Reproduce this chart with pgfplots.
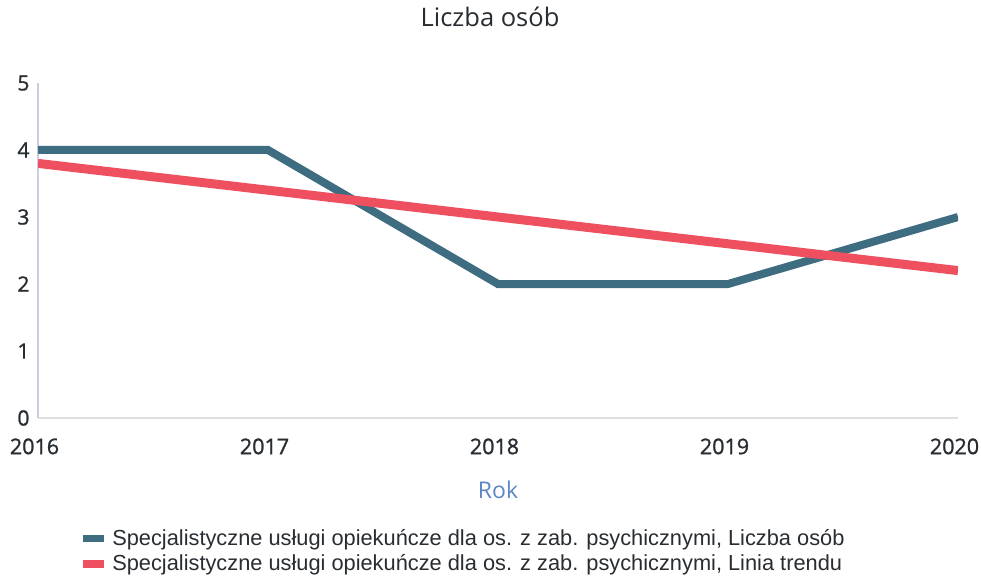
\documentclass[border=0pt]{standalone}
\usepackage{pgfplots}
\pgfplotsset{compat=1.18}
\usepackage{fontspec}
\setmainfont{Open Sans}
\newfontfamily\tickfont[FakeBold=1.2]{Open Sans}
\newfontfamily\legfont{Liberation Sans}
\definecolor{teal1}{RGB}{62,108,128}
\definecolor{red1}{RGB}{238,80,96}
\definecolor{rokc}{RGB}{92,134,196}
\definecolor{txt}{RGB}{40,45,50}
\definecolor{yax}{RGB}{200,205,225}
\begin{document}
\begin{tikzpicture}
\useasboundingbox (-38pt,-160pt) rectangle (943pt,418pt);
\begin{axis}[
  scale only axis, width=920pt, height=335pt,
  xmin=2016, xmax=2020, ymin=0, ymax=5,
  axis lines*=left,
  x axis line style={draw=black!12, line width=1.5pt},
  y axis line style={draw=yax, line width=1.5pt},
  xtick={2016,2017,2018,2019,2020}, ytick={0,1,2,3,4,5},
  major tick length=0pt,
  /pgf/number format/assume math mode=true,
  /pgf/number format/1000 sep={},
  xticklabel style={font=\tickfont\fontsize{21.5}{24}\selectfont, text=txt, yshift=-17pt, xshift=-3.5pt},
  yticklabel style={font=\tickfont\fontsize{21}{24}\selectfont, text=txt, xshift=-5pt},
  title={Liczba osób},
  title style={font=\fontsize{25.5}{28}\selectfont, text=txt, at={(0.5,1)}, anchor=base, yshift=50pt, xshift=-8pt},
  xlabel={Rok},
  xlabel style={font=\fontsize{23}{26}\selectfont, text=rokc, at={(0.5,0)}, anchor=base, yshift=-80pt},
  legend style={at={(0.049,-0.325)}, anchor=north west, draw=none, fill=none,
    font=\legfont\fontsize{21.8}{24}\selectfont, text=txt, row sep=0pt, column sep=6pt, inner sep=0pt,
    nodes={text height=16pt, text depth=5.5pt}},
  legend cell align=left,
  legend image code/.code={\fill[#1, draw=none] (0pt,-2.5pt) rectangle (21pt,5pt);},
]
\addplot[teal1, line width=8pt] coordinates {(2016,4)(2017,4)(2018,2)(2019,2)(2020,3)};
\addlegendentry{Specjalistyczne usługi opiekuńcze dla os. z zab. psychicznymi, Liczba osób}
\addplot[red1, line width=9pt] coordinates {(2016,3.8)(2017,3.4)(2018,3.0)(2019,2.6)(2020,2.2)};
\addlegendentry{Specjalistyczne usługi opiekuńcze dla os. z zab. psychicznymi, Linia trendu}
\end{axis}
\end{tikzpicture}
\end{document}
